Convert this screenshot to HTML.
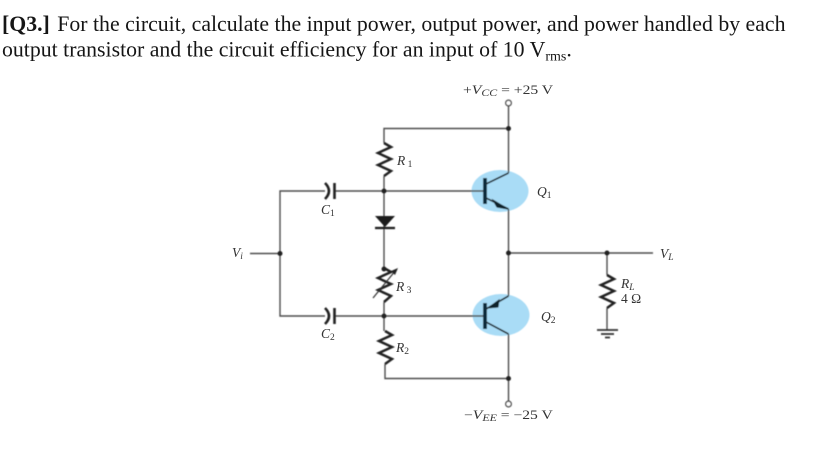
<!DOCTYPE html>
<html><head><meta charset="utf-8"><style>
html,body{margin:0;padding:0;background:#fff;width:820px;height:475px;overflow:hidden}
svg{display:block;position:absolute;left:0;top:0}
.t{font-family:"Liberation Serif",serif;font-size:21.8px;fill:#151515}
.l{font-family:"Liberation Serif",serif;fill:#333;font-size:13.500px}
.i{font-style:italic}
.w{fill:none;stroke:#4d4d4d;stroke-width:1.4}
.z{fill:none;stroke:#222;stroke-width:2.5;stroke-linejoin:miter}
.k{fill:none;stroke:#1f2a30;stroke-width:1.6}
</style></head><body>
<svg width="820" height="475" viewBox="0 0 820 475" xmlns="http://www.w3.org/2000/svg">
<defs><filter id="b" x="-5%" y="-5%" width="110%" height="110%"><feGaussianBlur stdDeviation="0.45"/></filter></defs>
<text class="t" x="2" y="31"><tspan font-weight="bold">[Q3.]</tspan><tspan dx="2"> For the circuit, calculate the input power, output power, and power handled by each</tspan></text>
<text class="t" x="2" y="56.500">output transistor and the circuit efficiency for an input of 10 V<tspan font-size="14" dy="4">rms</tspan><tspan dy="-4">.</tspan></text>

<g filter="url(#b)">
<ellipse cx="500" cy="191" rx="28.500" ry="21" fill="#a9dcf6"/>
<ellipse cx="501" cy="315" rx="28.500" ry="21" fill="#a9dcf6"/>

<path class="w" d="M508.500 106V173M508.500 209V296M508.500 334V401"/>
<path class="w" d="M384 143V128.500H508.500"/>
<path class="w" d="M384 176V268M384 302V331M385 364V378.500H508.500"/>
<path class="w" d="M325 191H280V316H325M335 191H485M335 316H485"/>
<path class="w" d="M250 253.500H280"/>
<path class="w" d="M508.500 253H653"/>
<path class="w" d="M607 253V275M607 308V330"/>

<circle cx="508.500" cy="103" r="2.800" fill="#fff" stroke="#444" stroke-width="1.300"/>
<circle cx="508.500" cy="404" r="2.800" fill="#fff" stroke="#444" stroke-width="1.300"/>
<g fill="#222">
<circle cx="508.500" cy="128.500" r="2.500"/><circle cx="384" cy="191" r="2.500"/><circle cx="280" cy="253.500" r="2.500"/>
<circle cx="384" cy="269" r="2.500"/><circle cx="384" cy="316" r="2.500"/><circle cx="508.500" cy="378.500" r="2.500"/>
<circle cx="508.500" cy="253" r="2.500"/><circle cx="607" cy="253" r="2.500"/>
</g>

<path class="z" d="M384 143L391 147L378 153L391 159L378 165L391 171L384 176"/>
<path class="z" d="M384 268L391 272L378 278L391 284L378 290L391 296L384 302"/>
<path class="z" d="M385 331L392 335L379 341L392 347L379 353L392 359L385 364"/>
<path class="z" d="M607 275L614 279L601 285L614 291L601 297L614 303L607 308"/>
<path d="M373 298L396 270" fill="none" stroke="#333" stroke-width="1.200"/>
<path d="M398 268L391 271L395 275Z" fill="#222"/>

<path d="M325 183Q333 191 325 199" fill="none" stroke="#222" stroke-width="2.600"/>
<path d="M325 308Q333 316 325 324" fill="none" stroke="#222" stroke-width="2.600"/>
<path d="M334.500 183V199M334.500 308V324" stroke="#222" stroke-width="2.600"/>

<path d="M375 216H395L385 227Z" fill="#1c1c1c"/>
<path d="M375 228H395" stroke="#1c1c1c" stroke-width="2.200"/>

<path d="M485 178V204M485 303V329" stroke="#0f2a3a" stroke-width="3.800"/>
<path class="k" d="M486 184L508.500 173M486 198L508.500 209M486 309L508.500 296M486 322L508.500 334"/>
<path d="M508 209L493 200L497 207Z" fill="#10222c" stroke="#10222c" stroke-width="1"/>
<path d="M488 308L499 300L498 307Z" fill="#10222c" stroke="#10222c" stroke-width="1"/>

<path d="M597 330H618" stroke="#333" stroke-width="1.800"/>
<path d="M601 334H614" stroke="#333" stroke-width="1.800"/>
<path d="M605 337.500H610" stroke="#333" stroke-width="1.800"/>
</g>

<text class="l" transform="translate(463,94) scale(1.25,1)" style="font-size:12.5px">+<tspan class="i">V</tspan><tspan class="i" font-size="9.500" dy="2">CC</tspan><tspan dy="-2"> = +25 V</tspan></text>
<text class="l" transform="translate(464,419) scale(1.25,1)" style="font-size:12.5px">−<tspan class="i">V</tspan><tspan class="i" font-size="9.500" dy="2">EE</tspan><tspan dy="-2"> = −25 V</tspan></text>
<text class="l i" x="397" y="165">R<tspan font-size="9.500" font-style="normal" dy="2"> 1</tspan></text>
<text class="l i" x="396" y="291">R<tspan font-size="9.500" font-style="normal" dy="2"> 3</tspan></text>
<text class="l i" x="396" y="352">R<tspan font-size="9.500" font-style="normal" dy="2">2</tspan></text>
<text class="l i" x="321" y="214">C<tspan font-size="9.500" font-style="normal" dy="2">1</tspan></text>
<text class="l i" x="321" y="338">C<tspan font-size="9.500" font-style="normal" dy="2">2</tspan></text>
<text class="l i" x="232" y="257">V<tspan font-size="9.500" dy="2">i</tspan></text>
<text class="l i" x="537" y="196">Q<tspan font-size="9.500" font-style="normal" dy="2">1</tspan></text>
<text class="l i" x="541" y="321">Q<tspan font-size="9.500" font-style="normal" dy="2">2</tspan></text>
<text class="l i" x="660" y="258">V<tspan font-size="9.500" dy="2">L</tspan></text>
<text class="l i" x="621" y="288">R<tspan font-size="9.500" dy="2">L</tspan></text>
<text class="l" x="621" y="303">4 Ω</text>
</svg>
</body></html>
